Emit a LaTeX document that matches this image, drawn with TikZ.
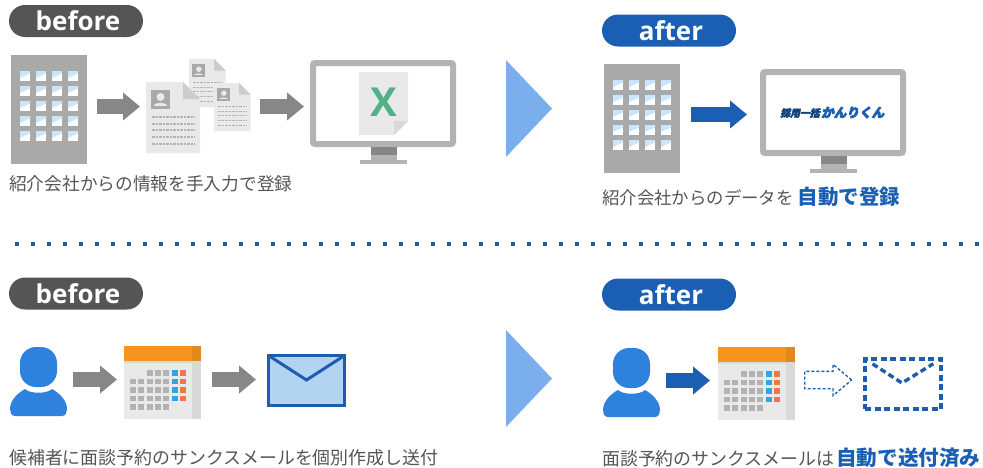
\documentclass[tikz,border=0pt]{standalone}
\usepackage{fontspec}
\setmainfont{Open Sans}
\newfontfamily\jpfont{Noto Sans CJK JP}
\newfontfamily\logofont[BoldFeatures={FakeBold=5}]{Noto Sans CJK JP}
\usetikzlibrary{arrows.meta,shapes.arrows}
\definecolor{inkgray}{HTML}{555555}
\definecolor{deepblue}{HTML}{1A5FB4}
\definecolor{lineblue}{HTML}{1F5BB0}
\definecolor{marblue}{HTML}{7AAEEC}
\definecolor{manblue}{HTML}{2E82DE}
\definecolor{arrowgray}{HTML}{878787}
\definecolor{towergray}{HTML}{A9A9A9}
\definecolor{framegray}{HTML}{B3B3B3}
\definecolor{papergray}{HTML}{E9E9E9}
\definecolor{foldgray}{HTML}{CCCCCC}
\definecolor{windowblue}{HTML}{CBE6FA}
\definecolor{mailblue}{HTML}{B3D4F0}
\definecolor{xlsgreen}{HTML}{55B088}
\definecolor{calorange}{HTML}{F7941D}
\definecolor{caldark}{HTML}{E08A1E}
\definecolor{calblue}{HTML}{2EA6DE}
\definecolor{calred}{HTML}{F5734A}

\begin{document}
\begin{tikzpicture}[x=1pt,y=-1pt,
		pill/.style={rounded corners=16pt,minimum width=134pt,minimum height=32pt,inner sep=0pt,text=white,font=\fontsize{26}{30}\selectfont\bfseries},
		caption/.style={anchor=west,inner sep=0pt,text=inkgray,font=\jpfont\fontsize{#1}{20}\selectfont},
		grayarrow/.style={draw=arrowgray,line width=15pt,-{Triangle[length=17pt,width=27pt]}},
		bluearrow/.style={draw=deepblue,line width=15pt,-{Triangle[length=17pt,width=27pt]}},
		mailbox/.style={draw=lineblue,line width=3pt,outer sep=0pt,inner sep=0pt,minimum width=76pt,minimum height=50pt},
		logotext/.style={anchor=west,inner sep=0pt,xslant=0.2,transform shape},
		pics/tower/.style={code={
			\node[fill=towergray,anchor=north west,inner sep=0pt,outer sep=0pt,minimum width=76pt,minimum height=109pt] (-body) at (0,0) {};
			\foreach \c in {0,1,2,3}
				\foreach \r in {0,1,2,3,4} {
					\fill[white] (9+16*\c,16+15*\r) rectangle ++(10,10);
					\fill[windowblue] (9+16*\c,16+15*\r) -- ++(10,0) -- ++(0,2.5) -- ++(-10,4.5) -- cycle;
				}
		}},
		pics/paper/.style={code={
			\node[inner sep=0pt,outer sep=0pt,anchor=north west,minimum width=54pt,minimum height=71pt] (-body) at (0,0) {};
			\fill[papergray] (0,0) -- (37,0) -- (54,17) -- (54,71) -- (0,71) -- cycle;
			\fill[foldgray] (37,0) -- (54,17) -- (37,17) -- cycle;
			\fill[towergray] (5,8) rectangle (24,27);
			\fill[papergray] (14.5,15) circle (4);
			\fill[papergray] (8,24) .. controls (8,20) and (21,20) .. (21,24) -- cycle;
			\foreach \y in {35,42,48,55,62}
				\draw[framegray,line width=1.2pt,dash pattern=on 2.5pt off 1pt] (6,\y) -- (49,\y);
		}},
		pics/monitor/.style={code={
			\node[draw=framegray,fill=white,line width=6pt,rounded corners=2pt,anchor=north west,inner sep=0pt,outer sep=0pt,minimum width=140pt,minimum height=81pt] (-body) at (3,3) {};
			\fill[arrowgray] (61,87) rectangle (87,95);
			\fill[framegray] (61,95) rectangle (87,100);
			\fill[framegray] (50,100) rectangle (97,104);
		}},
		pics/man/.style={code={
			\node[fill=manblue,rounded corners=16pt,anchor=north west,inner sep=0pt,outer sep=0pt,minimum width=37pt,minimum height=40pt] (-head) at (10,0) {};
			\fill[manblue] (5,69) .. controls (1,69) and (0,65) .. (0,62) .. controls (0,53) and (8,46) .. (15,42) .. controls (20,47) and (37,47) .. (42,42) .. controls (49,46) and (57,53) .. (57,62) .. controls (57,65) and (56,69) .. (52,69) -- cycle;
		}},
		pics/calendar/.style={code={
			\node[fill=papergray,anchor=north west,inner sep=0pt,outer sep=0pt,minimum width=77pt,minimum height=73pt] (-body) at (0,0) {};
			\fill[black!15] (0,15) rectangle (77,17);
			\fill[black!15] (68,15) rectangle (77,73);
			\fill[calorange] (0,0) rectangle (68,15);
			\fill[caldark] (68,0) rectangle (77,15);
			\foreach \c in {2,3,4}
				\fill[framegray] (6+8.35*\c,24) rectangle ++(5.8,5.8);
			\foreach \r in {1,2,3,4}
				\foreach \c in {0,1,2,3,4}
					\fill[framegray] (6+8.35*\c,24+8.5*\r) rectangle ++(5.8,5.8);
			\foreach \r in {0,1,2,3} {
				\fill[calblue] (6+8.35*5,24+8.5*\r) rectangle ++(5.8,5.8);
				\fill[calred] (6+8.35*6,24+8.5*\r) rectangle ++(5.8,5.8);
			}
		}},
		pics/nextmark/.style={code={
			\fill[marblue] (0,0) -- (46,48.5) -- (0,97) -- cycle;
		}}]
	\useasboundingbox (0,0) rectangle (983,467);
	\coordinate (rowA) at (0,106.5);
	\coordinate (rowB) at (0,114.5);
	\coordinate (rowC) at (0,379.5);
	\coordinate (rowD) at (0,380.5);
	\coordinate (ruleleft) at (15,244);
	\coordinate (ruleright) at (979,244);

	\node[pill,fill=inkgray] (beforeA) at (76,21) {\hspace{4pt}before};
	\node[pill,fill=deepblue] (afterA) at (669,30.5) {\hspace{4pt}after};
	\node[pill,fill=inkgray] (beforeB) at (76,293.5) {\hspace{4pt}before};
	\node[pill,fill=deepblue] (afterB) at (669,294.5) {\hspace{4pt}after};

	\pic (towerA) at (11,55) {tower};
	\pic[scale=.68,transform shape] (paperB) at (189,59) {paper};
	\pic[scale=.68,transform shape] (paperC) at (214,83) {paper};
	\pic (paperA) at (146,82) {paper};
	\pic (screenA) at (310,60) {monitor};
	\fill[papergray] (359,72) -- (408,72) -- (408,121) -- (394,135) -- (359,135) -- cycle;
	\fill[black!15] (408,121) -- (394,135) -- (394,121) -- cycle;
	\node[inner sep=0pt,text=xlsgreen,font=\fontsize{40}{42}\selectfont\bfseries] (xlsmark) at (383.5,102) {X};
	\draw[grayarrow,shorten <=10pt,shorten >=6pt] (towerA-body.east |- rowA) -- (paperA-body.west |- rowA);
	\draw[grayarrow,shorten <=9pt,shorten >=9pt] (paperC-body.east |- rowA) -- (screenA-body.west |- rowA);
	\node[caption=17.7] (captionA) at (9,184) {紹介会社からの情報を手入力で登録};

	\pic at (506,60) {nextmark};
	\pic at (506,330) {nextmark};

	\pic (towerB) at (604,64) {tower};
	\pic (screenB) at (760,69) {monitor};
	\node[logotext,text=deepblue!70!black,font=\logofont\fontsize{9.8}{10}\selectfont\bfseries] (logoA) at (781,113) {採用一括};
	\node[logotext,text=deepblue,font=\logofont\fontsize{12.6}{13}\selectfont\bfseries] (logoB) at (822,112.5) {かんりくん};
	\draw[bluearrow,shorten <=11pt,shorten >=16pt] (towerB-body.east |- rowB) -- (screenB-body.west |- rowB);
	\node[caption=17.4] (captionB) at (602,197) {紹介会社からのデータを\hspace{4pt}{\fontsize{20.5}{22}\selectfont\bfseries\color{deepblue}自動で登録}};

	\draw[lineblue,line width=4pt,dash pattern=on 4pt off 12pt] (ruleleft) -- (ruleright);

	\pic (manA) at (10,347) {man};
	\pic (calA) at (124,346) {calendar};
	\node[mailbox,fill=mailblue] (mailA) at (306.5,380.5) {};
	\coordinate (flapA) at (306.5,380);
	\draw[lineblue,line width=3pt] (mailA.north west) -- (flapA) -- (mailA.north east);
	\draw[grayarrow,shorten <=16pt,shorten >=7pt] (manA-head.east |- rowC) -- (calA-body.west |- rowC);
	\draw[grayarrow,shorten <=11pt,shorten >=12.5pt] (calA-body.east |- rowC) -- (mailA.west |- rowC);
	\node[caption=17.9] (captionC) at (9,458) {候補者に面談予約のサンクスメールを個別作成し送付};

	\pic (manB) at (603,348) {man};
	\pic (calB) at (718,347) {calendar};
	\node[mailbox,line width=3.4pt,dash pattern=on 6pt off 3.5pt] (mailB) at (903,384) {};
	\coordinate (flapB) at (902,383);
	\draw[lineblue,line width=3.4pt,dash pattern=on 6pt off 3.5pt,shorten <=9pt,shorten >=9pt] (mailB.north west) -- (flapB) -- (mailB.north east);
	\draw[bluearrow,shorten <=16pt,shorten >=8pt] (manB-head.east |- rowD) -- (calB-body.west |- rowD);
	\node[single arrow,draw=lineblue,line width=1.3pt,dash pattern=on 3pt off 2pt,anchor=tail,inner sep=8pt,minimum width=30pt,minimum height=47pt,single arrow head extend=7pt,single arrow tip angle=80] (dasharrow) at (804,380) {};
	\node[caption=17.9] (captionD) at (602,458) {面談予約のサンクスメールは\hspace{2pt}{\fontsize{20.6}{22}\selectfont\bfseries\color{deepblue}自動で送付済み}};
\end{tikzpicture}
\end{document}
